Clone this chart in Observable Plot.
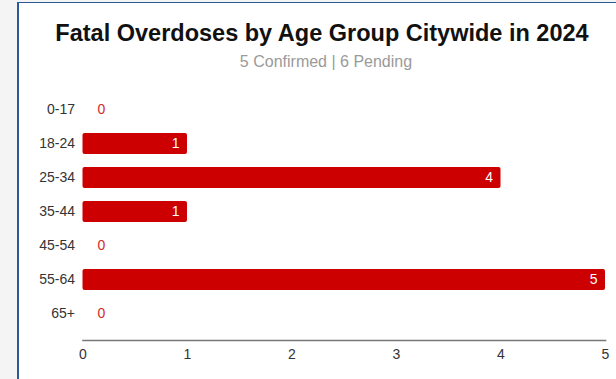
<!DOCTYPE html>
<html>
<head>
<meta charset="utf-8">
<script src="https://cdn.jsdelivr.net/npm/d3@7"></script>
<script src="https://cdn.jsdelivr.net/npm/@observablehq/plot@0.6"></script>
<style>
  html, body { margin: 0; padding: 0; width: 616px; height: 379px; overflow: hidden; background: #f4f4f4; font-family: "Liberation Sans", Arial, sans-serif; }
  #panel { position: absolute; left: 17px; top: 2px; width: 620px; height: 400px; background: #fff; border-left: 2px solid #2d5a96; border-top: 1.5px solid #2d5a96; }
  #title { position: absolute; left: 0; width: 644px; top: 22px; text-align: center; font-size: 23.5px; line-height: 23.5px; font-weight: bold; color: #111; }
  #subtitle { position: absolute; left: 0; width: 652px; top: 53.5px; text-align: center; font-size: 16px; line-height: 16px; color: #9a9a9a; }
  #chart { position: absolute; left: 0; top: 0; }
  #chart svg { background: transparent; }
</style>
</head>
<body>
<div id="panel"></div>
<div id="title">Fatal Overdoses by Age Group Citywide in 2024</div>
<div id="subtitle">5 Confirmed | 6 Pending</div>
<div id="chart"></div>
<script>
const ageGroups = ["0-17", "18-24", "25-34", "35-44", "45-54", "55-64", "65+"];
const deaths = [0, 1, 4, 1, 0, 5, 0];
const xTicks = [0, 1, 2, 3, 4, 5];

const data = ageGroups.map((a, i) => ({age: a, value: deaths[i]}));

const chart = Plot.plot({
  width: 616,
  height: 379,
  marginLeft: 82.5,
  marginRight: 11,
  marginTop: 83,
  marginBottom: 39,
  style: {fontFamily: "Liberation Sans, Arial, sans-serif", fontSize: "14px", color: "#333", background: "transparent"},
  x: {domain: [0, 5], ticks: xTicks, tickFormat: "d", label: null, tickSize: 0, tickPadding: 9},
  y: {domain: ageGroups, label: null, tickSize: 0, tickPadding: 8, paddingInner: 0.368, paddingOuter: 0.374},
  marks: [
    Plot.frame({anchor: "bottom", stroke: "#777", strokeWidth: 1.6}),
    Plot.barX(data.filter(d => d.value > 0), {x: "value", y: "age", fill: "#cc0000", rx: 2}),
    Plot.text(data.filter(d => d.value > 0), {x: "value", y: "age", text: d => String(d.value), textAnchor: "end", dx: -8, fill: "#fff", fontSize: 14}),
    Plot.text(data.filter(d => d.value === 0), {x: 0, y: "age", text: d => String(d.value), textAnchor: "start", dx: 14.5, fill: "#d42a2a", fontSize: 14})
  ]
});
document.getElementById("chart").appendChild(chart);
</script>
</body>
</html>
